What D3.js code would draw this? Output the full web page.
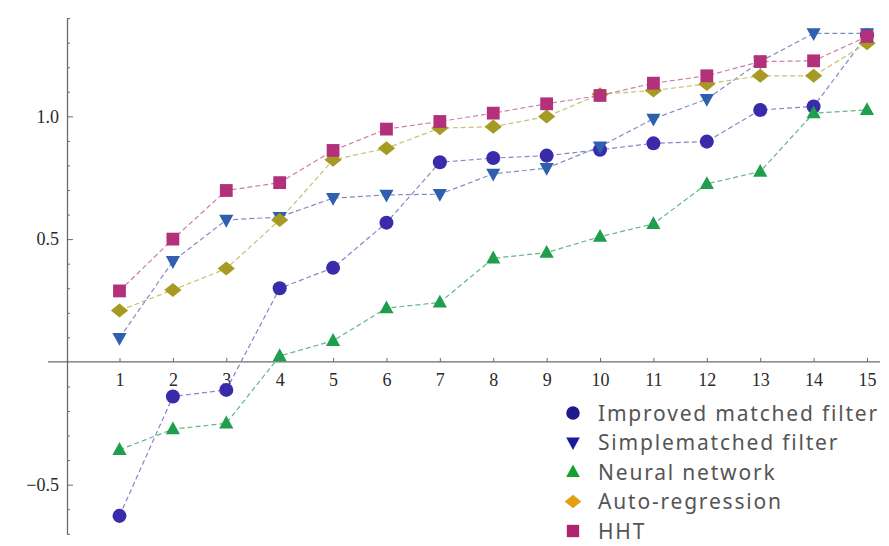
<!DOCTYPE html>
<html>
<head>
<meta charset="utf-8">
<script src="https://cdn.jsdelivr.net/npm/d3@7"></script>
<style>
  html, body { margin: 0; padding: 0; background: #fff; }
  svg { display: block; }
</style>
</head>
<body>
<svg id="chart" width="889" height="546"></svg>
<script>
// Trial index on the x axis
const trials = [1, 2, 3, 4, 5, 6, 7, 8, 9, 10, 11, 12, 13, 14, 15];

// Scores per method, one value per trial
const improvedMatched = [-0.627, -0.141, -0.114, 0.30, 0.383, 0.567, 0.813, 0.83, 0.84, 0.864, 0.89, 0.897, 1.026, 1.04, 1.33];
const simpleMatched   = [0.097, 0.41, 0.578, 0.59, 0.667, 0.68, 0.683, 0.766, 0.789, 0.877, 0.99, 1.07, 1.223, 1.338, 1.338];
const neuralNetwork   = [-0.358, -0.274, -0.25, 0.024, 0.086, 0.219, 0.242, 0.422, 0.445, 0.51, 0.562, 0.725, 0.775, 1.013, 1.026];
const autoRegression  = [0.209, 0.293, 0.38, 0.578, 0.823, 0.87, 0.952, 0.958, 0.999, 1.09, 1.105, 1.132, 1.165, 1.165, 1.298];
const hht             = [0.289, 0.50, 0.698, 0.73, 0.861, 0.948, 0.979, 1.013, 1.051, 1.085, 1.135, 1.165, 1.223, 1.226, 1.325];

const seriesNames = ["Improved matched filter", "Simple matched filter", "Neural network", "Auto-regression", "HHT"];
const legendLabels = ["Improved matched filter", "Simplematched filter", "Neural network", "Auto-regression", "HHT"];

// Tick labels
const yMajorTicks = [-0.5, 0.5, 1.0];
const yTickLabels = ["\u22120.5", "0.5", "1.0"];
const yMinorTicks = [-0.7, -0.6, -0.4, -0.3, -0.2, -0.1, 0.1, 0.2, 0.3, 0.4, 0.6, 0.7, 0.8, 0.9, 1.1, 1.2, 1.3, 1.4];

const series = [
  { name: seriesNames[0], values: improvedMatched, shape: "circle",   fill: "#3a2bab", line: "#8a84c8", legendFill: "#1f1990" },
  { name: seriesNames[1], values: simpleMatched,   shape: "tridown",  fill: "#2f5fae", line: "#7c90c6", legendFill: "#1b1b9c" },
  { name: seriesNames[2], values: neuralNetwork,   shape: "triup",    fill: "#1f9e4e", line: "#62b884", legendFill: "#15a02c" },
  { name: seriesNames[3], values: autoRegression,  shape: "diamond",  fill: "#a69a22", line: "#c9c070", legendFill: "#e0a012" },
  { name: seriesNames[4], values: hht,             shape: "square",   fill: "#b3307a", line: "#d07aa8", legendFill: "#b0226e" }
];

const svg = d3.select("#chart");

const x = d3.scaleLinear().domain([1, 15]).range([119.5, 867]);
const y = d3.scaleLinear().domain([-0.7, 1.4]).range([533.8, 18.1]);
const axisX = 67;

// marker path generator
function markerPath(shape, s) {
  switch (shape) {
    case "circle":  return d3.symbol(d3.symbolCircle, Math.PI * (s * 0.52) * (s * 0.52))();
    case "square":  return d3.symbol(d3.symbolSquare, s * s * 0.9)();
    case "triup": {
      const h = s * 0.95, w = s * 1.05;
      return `M0,${-h * 0.6}L${w / 2},${h * 0.4}L${-w / 2},${h * 0.4}Z`;
    }
    case "tridown": {
      const h = s * 0.95, w = s * 1.05;
      return `M0,${h * 0.6}L${w / 2},${-h * 0.4}L${-w / 2},${-h * 0.4}Z`;
    }
    case "diamond": {
      const w = s * 0.64, h = s * 0.52;
      return `M0,${-h}L${w},0L0,${h}L${-w},0Z`;
    }
  }
}

// Axes
const axisColor = "#6a6a6a";
const tickFont = "'Liberation Serif', 'DejaVu Serif', serif";

// y axis: major ticks with labels
const yAxis = d3.axisLeft(y)
  .tickValues(yMajorTicks)
  .tickFormat((d, i) => yTickLabels[i])
  .tickSizeInner(-6)
  .tickSizeOuter(0)
  .tickPadding(8);
const gy = svg.append("g").attr("transform", `translate(${axisX},0)`).call(yAxis);
gy.select(".domain").attr("stroke", axisColor).attr("stroke-width", 1.3);
gy.selectAll(".tick line").attr("stroke", axisColor).attr("stroke-width", 1);
gy.selectAll(".tick text")
  .attr("font-family", tickFont).attr("font-size", 18).attr("fill", "#2a2a2a");

// y axis: minor ticks
const yMinor = d3.axisLeft(y).tickValues(yMinorTicks).tickFormat("").tickSizeInner(-3).tickSizeOuter(0);
const gym = svg.append("g").attr("transform", `translate(${axisX},0)`).call(yMinor);
gym.select(".domain").remove();
gym.selectAll(".tick line").attr("stroke", axisColor).attr("stroke-width", 1);

// x axis through zero
const xAxis = d3.axisBottom(x)
  .tickValues(trials)
  .tickFormat(d3.format("d"))
  .tickSizeInner(-4)
  .tickSizeOuter(0)
  .tickPadding(11);
const gx = svg.append("g").attr("transform", `translate(0,${y(0)})`).call(xAxis);
gx.select(".domain").remove();
gx.append("line").attr("x1", 48).attr("x2", 880).attr("y1", 0).attr("y2", 0)
  .attr("stroke", axisColor).attr("stroke-width", 1.3);
gx.selectAll(".tick line").attr("stroke", axisColor).attr("stroke-width", 1);
gx.selectAll(".tick text")
  .attr("font-family", tickFont).attr("font-size", 18).attr("fill", "#2a2a2a");

// Lines
const line = d3.line().x((d, i) => x(trials[i])).y(d => y(d));
const plot = svg.append("g");
series.forEach(s => {
  plot.append("path")
    .datum(s.values)
    .attr("d", line)
    .attr("fill", "none")
    .attr("stroke", s.line)
    .attr("stroke-width", 1.2)
    .attr("stroke-dasharray", "5,3");
});

// Markers
series.forEach(s => {
  plot.append("g").selectAll("path")
    .data(s.values)
    .join("path")
    .attr("transform", (d, i) => `translate(${x(trials[i])},${y(d)})`)
    .attr("d", markerPath(s.shape, 13.5))
    .attr("fill", s.fill);
});

// Legend
const legend = svg.append("g").attr("transform", "translate(573,413)");
const rowGap = 29.5;
series.forEach((s, i) => {
  const row = legend.append("g").attr("transform", `translate(0,${i * rowGap})`);
  row.append("path").attr("d", markerPath(s.shape, 13)).attr("fill", s.legendFill);
  row.append("text")
    .attr("x", 25).attr("y", 0).attr("dy", "0.36em")
    .attr("font-family", "'Noto Sans', sans-serif")
    .attr("font-size", 21)
    .attr("letter-spacing", 1.8)
    .attr("fill", "#555")
    .text(legendLabels[i]);
});
</script>
</body>
</html>
